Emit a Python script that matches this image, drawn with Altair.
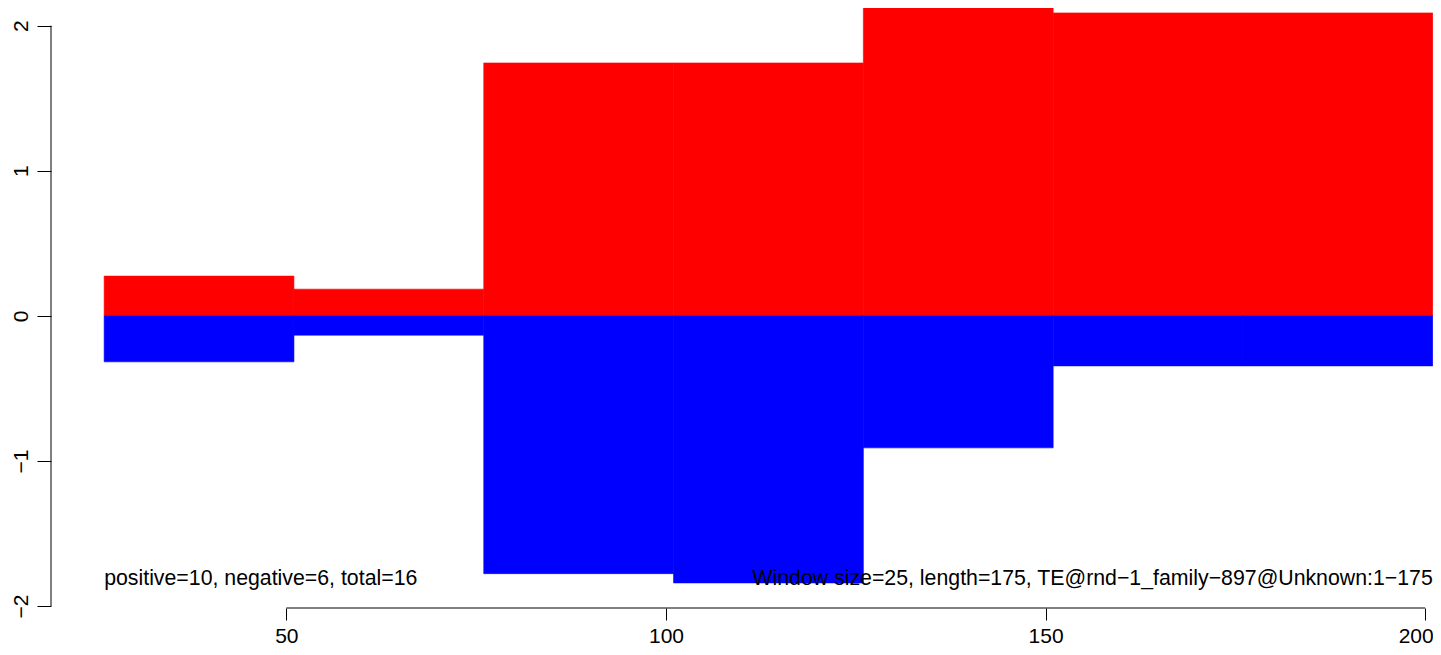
import altair as alt
import pandas as pd

# Window boundaries (positions along the TE) and window scores
win_start = [26, 51, 76, 101, 126, 151, 176]
win_end = [51, 76, 101, 126, 151, 176, 201]
pos_vals = [0.274, 0.184, 1.743, 1.743, 2.25, 2.088, 2.088]
neg_vals = [-0.317, -0.133, -1.777, -1.841, -0.910, -0.345, -0.345]

x_ticks = [50, 100, 150, 200]
y_ticks = [-2, -1, 0, 1, 2]

left_label = "positive=10, negative=6, total=16"
right_label = "Window size=25, length=175, TE@rnd\u22121_family\u2212897@Unknown:1\u2212175"
label_y = -1.852

X_DOMAIN = [19, 201.03]
Y_DOMAIN = [-2, 2.122]
FONT = "Liberation Sans"

bars = pd.DataFrame({
    "start": win_start,
    "end": win_end,
    "pos": pos_vals,
    "neg": neg_vals,
    "zero": [0.0] * len(win_start),
})

xscale = alt.Scale(domain=X_DOMAIN, nice=False, zero=False)
yscale = alt.Scale(domain=Y_DOMAIN, nice=False, zero=False)

xaxis = alt.Axis(
    values=x_ticks, orient="bottom", offset=2, domain=False, grid=False, title=None,
    tickSize=12, tickColor="black", tickWidth=1, labelPadding=22,
    labelBaseline="alphabetic", labelFont=FONT, labelFontSize=21, labelColor="black",
    labelFlush=12, labelFlushOffset=8, labelOverlap=False,
)
yaxis = alt.Axis(
    values=y_ticks, orient="left", domain=False, grid=False, title=None,
    tickSize=14, tickColor="black", tickWidth=1, labelPadding=10,
    labelAngle=270, labelAlign="center", labelBaseline="alphabetic",
    labelFont=FONT, labelFontSize=21, labelColor="black",
    labelFlush=False, labelOverlap=False,
)

base = alt.Chart(bars)

red = base.mark_rect(color="#FF0000", stroke="#FF0000", strokeWidth=0.6, clip=True).encode(
    x=alt.X("start:Q", scale=xscale, axis=xaxis),
    x2="end:Q",
    y=alt.Y("zero:Q", scale=yscale, axis=yaxis),
    y2="pos:Q",
)
blue = base.mark_rect(color="#0000FF", stroke="#0000FF", strokeWidth=0.6, clip=True).encode(
    x=alt.X("start:Q", scale=xscale, axis=xaxis),
    x2="end:Q",
    y=alt.Y("neg:Q", scale=yscale, axis=yaxis),
    y2="zero:Q",
)

yline = alt.Chart(pd.DataFrame({"start": [X_DOMAIN[0]], "zero": [min(y_ticks)], "y2": [max(y_ticks)]})).mark_rule(
    color="black", strokeWidth=1
).encode(
    x=alt.X("start:Q", scale=xscale, axis=xaxis),
    y=alt.Y("zero:Q", scale=yscale, axis=yaxis),
    y2="y2:Q",
)
xline = alt.Chart(pd.DataFrame({"start": [min(x_ticks)], "x2": [max(x_ticks)], "zero": [min(y_ticks)]})).mark_rule(
    color="black", strokeWidth=1, yOffset=2
).encode(
    x=alt.X("start:Q", scale=xscale, axis=xaxis),
    x2="x2:Q",
    y=alt.Y("zero:Q", scale=yscale, axis=yaxis),
)

texts = pd.DataFrame({
    "start": [win_start[0], win_end[-1]],
    "zero": [label_y, label_y],
    "t": [left_label, right_label],
})
ltext = alt.Chart(texts.iloc[[0]]).mark_text(
    align="left", baseline="alphabetic", font=FONT, fontSize=21.3, color="black"
).encode(
    x=alt.X("start:Q", scale=xscale, axis=xaxis),
    y=alt.Y("zero:Q", scale=yscale, axis=yaxis),
    text="t:N",
)
rtext = alt.Chart(texts.iloc[[1]]).mark_text(
    align="right", baseline="alphabetic", font=FONT, fontSize=21.3, color="black"
).encode(
    x=alt.X("start:Q", scale=xscale, axis=xaxis),
    y=alt.Y("zero:Q", scale=yscale, axis=yaxis),
    text="t:N",
)

chart = alt.layer(red, blue, yline, xline, ltext, rtext).properties(
    width=1382,
    height=598,
    autosize=alt.AutoSizeParams(type="none"),
    padding={"left": 43, "top": 0, "right": 0, "bottom": 41},
    background="white",
).configure_view(stroke=None)

chart.save("out.html", embed_options={"renderer": "svg", "actions": False})
